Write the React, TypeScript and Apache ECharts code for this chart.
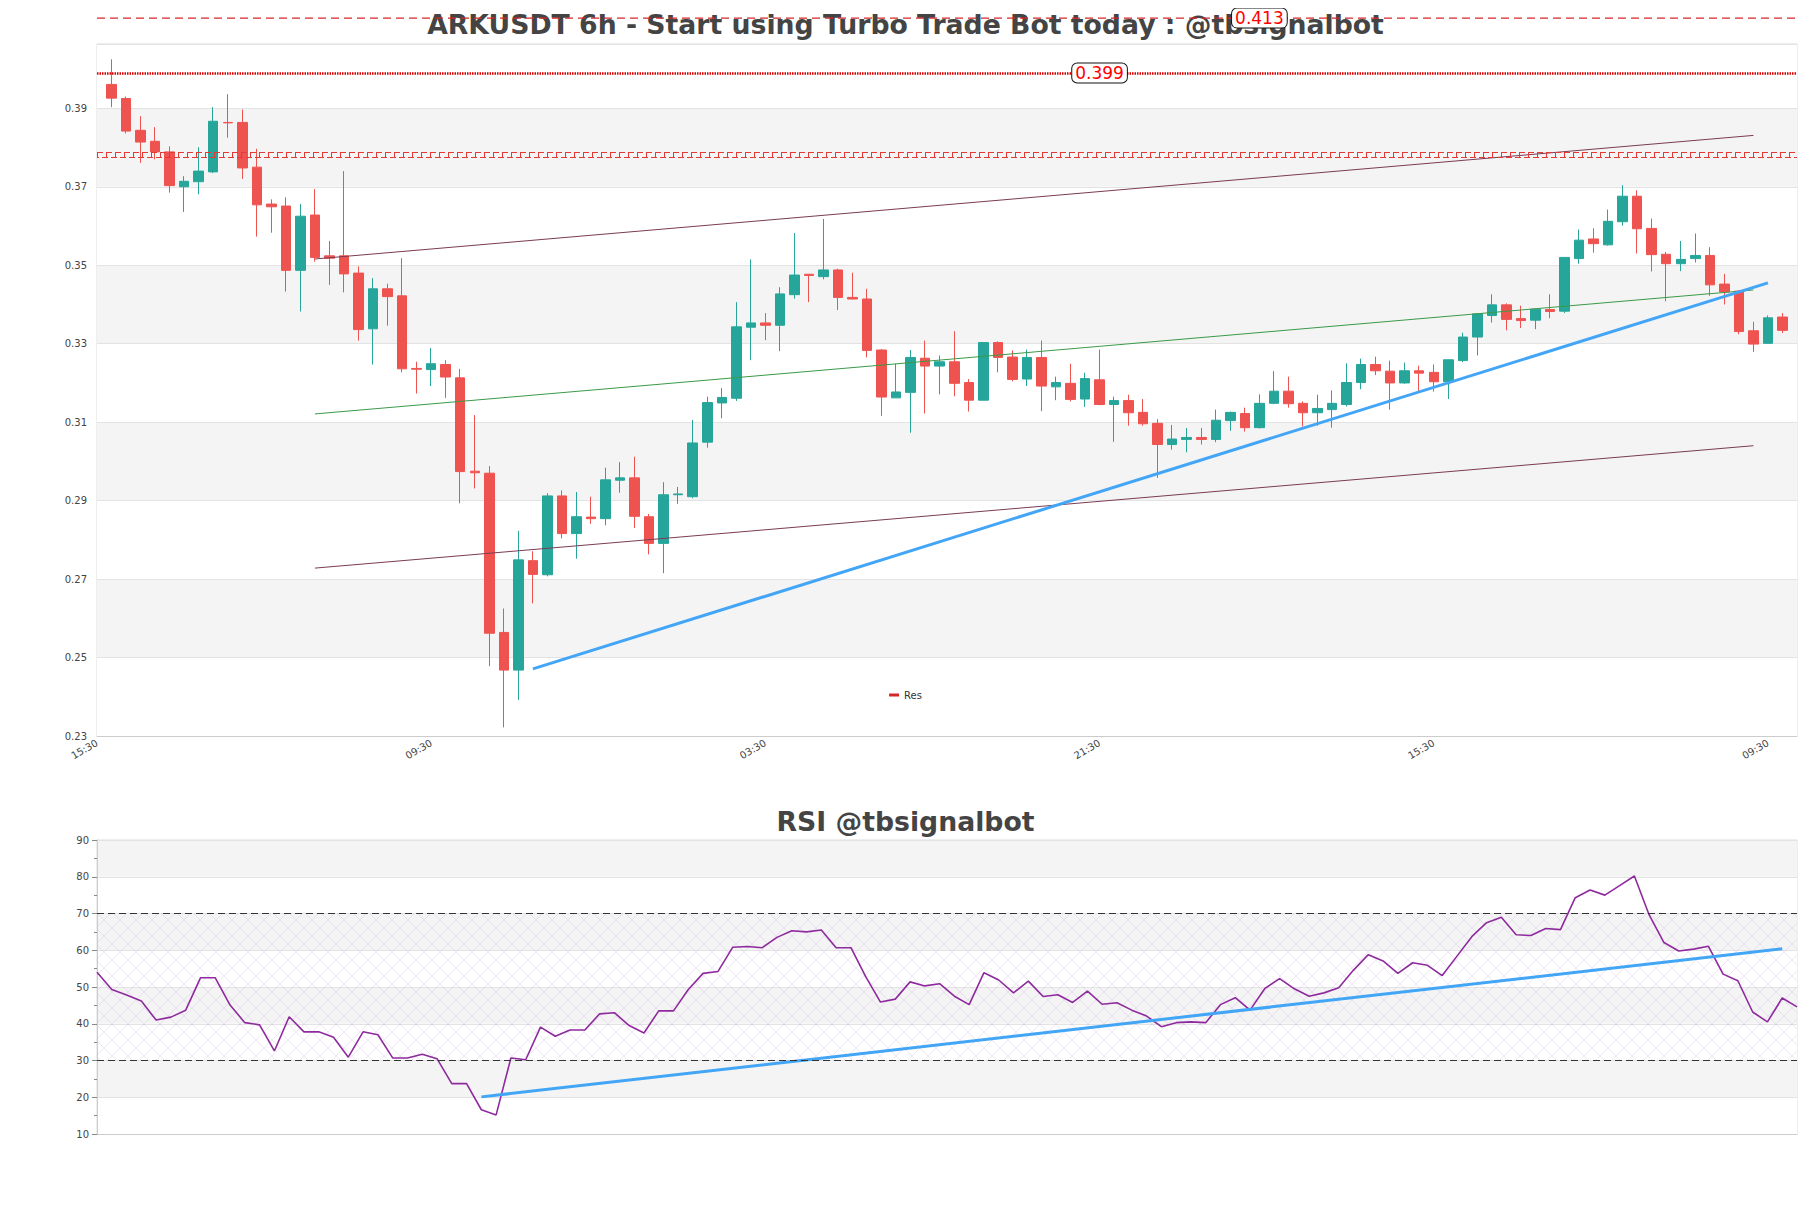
import React, { useEffect, useRef } from "react";
import * as echarts from "echarts";

// ---------- data ----------
const startTime = "15:30"; // first category label
const stepHours = 6;
const padBefore = 1; // empty slot before first candle
const padAfter = 1; // empty slot after last candle
const xLabelEvery = 23;

const opens = [0.3961,0.3925,0.3844,0.3816,0.3789,0.3700,0.3713,0.3738,0.3864,0.3864,
0.3750,0.3656,0.3651,0.3487,0.3628,0.3524,0.3524,0.3480,0.3338,0.3440,
0.3422,0.3237,0.3234,0.3247,0.3213,0.2975,0.2970,0.2564,0.2468,0.2747,
0.2711,0.2912,0.2816,0.2858,0.2854,0.2952,0.2958,0.2859,0.2791,0.2915,
0.2910,0.3049,0.3149,0.3161,0.3342,0.3353,0.3347,0.3425,0.3477,0.3471,
0.3488,0.3418,0.3414,0.3284,0.3162,0.3176,0.3263,0.3243,0.3254,0.3201,
0.3156,0.3303,0.3266,0.3210,0.3265,0.3190,0.3199,0.3159,0.3208,0.3145,
0.3155,0.3125,0.3097,0.3043,0.3056,0.3061,0.3056,0.3104,0.3122,0.3086,
0.3148,0.3179,0.3148,0.3124,0.3132,0.3145,0.3201,0.3247,0.3230,0.3200,
0.3231,0.3227,0.3203,0.3257,0.3317,0.3372,0.3399,0.3364,0.3360,0.3387,
0.3383,0.3517,0.3567,0.3552,0.3611,0.3676,0.3594,0.3528,0.3504,0.3517,
0.3525,0.3452,0.3434,0.3333,0.3301,0.3368];

const closes = [0.3926,0.3842,0.3814,0.3789,0.3703,0.3714,0.3740,0.3867,0.3863,0.3748,
0.3654,0.3649,0.3487,0.3625,0.3520,0.3518,0.3478,0.3336,0.3440,0.3420,
0.3236,0.3235,0.3249,0.3215,0.2974,0.2971,0.2562,0.2468,0.2749,0.2712,
0.2912,0.2816,0.2859,0.2854,0.2953,0.2958,0.2860,0.2791,0.2915,0.2917,
0.3047,0.3150,0.3163,0.3343,0.3353,0.3347,0.3427,0.3475,0.3474,0.3488,
0.3418,0.3414,0.3283,0.3164,0.3177,0.3265,0.3243,0.3254,0.3199,0.3156,
0.3303,0.3265,0.3209,0.3265,0.3192,0.3201,0.3158,0.3211,0.3145,0.3155,
0.3124,0.3096,0.3043,0.3057,0.3061,0.3056,0.3105,0.3125,0.3086,0.3148,
0.3179,0.3147,0.3124,0.3135,0.3148,0.3201,0.3247,0.3231,0.3200,0.3231,
0.3225,0.3203,0.3259,0.3317,0.3376,0.3399,0.3362,0.3359,0.3388,0.3382,
0.3520,0.3564,0.3555,0.3612,0.3676,0.3593,0.3527,0.3504,0.3515,0.3525,
0.3450,0.3432,0.3331,0.3299,0.3366,0.3334];

const lows = [0.3903,0.3836,0.3761,0.3770,0.3685,0.3636,0.3681,0.3735,0.3825,0.3720,
0.3573,0.3583,0.3433,0.3382,0.3509,0.3450,0.3431,0.3308,0.3247,0.3346,
0.3227,0.3173,0.3192,0.3162,0.2893,0.2931,0.2478,0.2322,0.2392,0.2638,
0.2707,0.2804,0.2752,0.2841,0.2837,0.2920,0.2830,0.2763,0.2715,0.2892,
0.2906,0.3035,0.3110,0.3154,0.3258,0.3309,0.3281,0.3415,0.3406,0.3464,
0.3386,0.3413,0.3265,0.3116,0.3162,0.3073,0.3122,0.3171,0.3166,0.3127,
0.3156,0.3227,0.3204,0.3192,0.3128,0.3156,0.3153,0.3139,0.3143,0.3050,
0.3091,0.3091,0.2958,0.3030,0.3023,0.3043,0.3049,0.3078,0.3076,0.3084,
0.3146,0.3137,0.3089,0.3091,0.3086,0.3140,0.3184,0.3220,0.3132,0.3198,
0.3177,0.3178,0.3159,0.3253,0.3270,0.3354,0.3334,0.3340,0.3337,0.3365,
0.3378,0.3504,0.3532,0.3550,0.3601,0.3530,0.3484,0.3408,0.3485,0.3507,
0.3422,0.3400,0.3324,0.3279,0.3300,0.3327];

const highs = [0.4025,0.3930,0.3880,0.3852,0.3803,0.3727,0.3801,0.3903,0.3936,0.3897,
0.3797,0.3668,0.3673,0.3656,0.3694,0.3562,0.3740,0.3497,0.3467,0.3453,
0.3518,0.3254,0.3289,0.3258,0.3236,0.3118,0.2988,0.2625,0.2823,0.2771,
0.2919,0.2926,0.2922,0.2910,0.2984,0.2998,0.3012,0.2866,0.2947,0.2935,
0.3106,0.3165,0.3187,0.3406,0.3515,0.3378,0.3444,0.3582,0.3478,0.3618,
0.3491,0.3481,0.3440,0.3286,0.3249,0.3284,0.3308,0.3270,0.3332,0.3210,
0.3304,0.3306,0.3283,0.3285,0.3308,0.3216,0.3249,0.3226,0.3285,0.3165,
0.3170,0.3159,0.3108,0.3093,0.3085,0.3085,0.3132,0.3127,0.3137,0.3171,
0.3230,0.3216,0.3153,0.3170,0.3181,0.3250,0.3262,0.3267,0.3257,0.3252,
0.3244,0.3247,0.3260,0.3328,0.3377,0.3426,0.3403,0.3397,0.3389,0.3426,
0.3521,0.3591,0.3594,0.3642,0.3704,0.3691,0.3619,0.3534,0.3562,0.3581,
0.3546,0.3478,0.3436,0.3356,0.3372,0.3378];

const rsi = [54.0,49.3,47.8,46.2,41.0,41.8,43.7,52.5,52.5,45.1,
40.3,39.7,32.6,41.9,37.8,37.8,36.3,30.9,37.8,37.0,
30.7,30.7,31.7,30.5,23.7,23.7,16.6,15.2,30.7,30.2,
39.1,36.6,38.3,38.3,42.7,43.0,39.5,37.5,43.5,43.5,
49.3,53.7,54.2,60.8,61.0,60.7,63.5,65.3,65.0,65.5,
60.7,60.7,52.8,45.9,46.7,51.4,50.3,50.9,47.5,45.2,
53.9,51.9,48.4,51.6,47.4,47.9,45.8,48.9,45.3,45.7,
43.7,42.1,39.2,40.3,40.5,40.3,45.2,47.1,43.7,49.6,
52.3,49.5,47.5,48.4,49.8,54.6,58.8,57.1,53.7,56.6,
55.9,53.1,58.4,63.7,67.5,69.0,64.2,64.0,65.9,65.6,
74.3,76.4,75.0,77.6,80.2,69.6,62.1,59.8,60.3,61.1,
53.5,51.7,43.2,40.5,47.0,44.6];

// trend lines: [categoryIndex, price]
const trendBlue = [[30, 0.2471], [115, 0.3455]];
const trendGreen = [[15, 0.3121], [114, 0.3437]];
const trendUpper = [[15, 0.3516], [114, 0.3831]];
const trendLower = [[15, 0.2728], [114, 0.3040]];
const rsiTrend = [[26, 20.1], [114, 60.4]];

// resistance levels
const resMain = 0.399;
const resMainLabelAt = 69;
const resHigh = 0.413;
const resHighLabelAt = 80;
const resBandTop = 0.3789;
const resBandMid = 0.3782;
const resBandBottom = 0.3775;

const priceMin = 0.23;
const priceMax = 0.4064;
const priceStep = 0.02;
const rsiMin = 10;
const rsiMax = 90;
const rsiUpper = 70;
const rsiLower = 30;

// ---------- helpers ----------
function buildCategories(n: number): string[] {
  const [h, m] = startTime.split(":").map(Number);
  const out: string[] = [];
  for (let i = 0; i < n; i++) {
    const mins = (h * 60 + m + i * stepHours * 60) % (24 * 60);
    const hh = Math.floor(mins / 60);
    const mm = mins % 60;
    out.push(String(hh).padStart(2, "0") + ":" + String(mm).padStart(2, "0") + "#" + i);
  }
  return out;
}

function makeHatch(): string {
  const s = 16;
  const c = document.createElement("canvas");
  c.width = s;
  c.height = s;
  const ctx = c.getContext("2d");
  if (ctx) {
    ctx.strokeStyle = "rgba(185,155,215,0.4)";
    ctx.lineWidth = 0.6;
    ctx.beginPath();
    ctx.moveTo(0, 0);
    ctx.lineTo(s, s);
    ctx.moveTo(s, 0);
    ctx.lineTo(0, s);
    ctx.stroke();
  }
  return c.toDataURL();
}

const FONT = "DejaVu Sans";

export default function App() {
  const ref = useRef<HTMLDivElement>(null);

  useEffect(() => {
    if (!ref.current) return;
    const chart = echarts.init(ref.current, undefined, { renderer: "svg" });

    const nMain = opens.length + padBefore + padAfter;
    const mainCats = buildCategories(nMain);
    const candleData: any[] = [];
    for (let i = 0; i < padBefore; i++) candleData.push(["-", "-", "-", "-"]);
    for (let i = 0; i < opens.length; i++) candleData.push([opens[i], closes[i], lows[i], highs[i]]);
    for (let i = 0; i < padAfter; i++) candleData.push(["-", "-", "-", "-"]);
    const rsiCats = rsi.map((_, i) => String(i));

    const hatch = makeHatch();
    const trendLine = (name: string, data: number[][], color: string, width: number, xi: number, yi: number) => ({
      name,
      type: "line",
      xAxisIndex: xi,
      yAxisIndex: yi,
      data,
      symbol: "none",
      silent: true,
      lineStyle: { color, width },
      itemStyle: { color },
      z: 4,
    });

    const titleStyle = { fontSize: 26.7, fontWeight: "bold", color: "#444", fontFamily: FONT };

    const option: any = {
      animation: false,
      backgroundColor: "#fff",
      textStyle: { fontFamily: FONT },
      title: [
        {
          text: "ARKUSDT 6h - Start using Turbo Trade Bot today : @tbsignalbot",
          left: "center",
          top: 3,
          padding: 0,
          textStyle: titleStyle,
        },
        {
          text: "RSI @tbsignalbot",
          left: "center",
          top: 800,
          padding: 0,
          textStyle: titleStyle,
        },
      ],
      legend: {
        data: [{ name: "Res", icon: "rect" }],
        left: "center",
        top: 677,
        itemWidth: 10,
        itemHeight: 3,
        itemGap: 5,
        textStyle: { fontSize: 10, color: "#333", fontFamily: FONT },
      },
      grid: [
        { left: 89, right: 6, top: 36, height: 692, show: true, borderColor: "#ddd", borderWidth: 1, backgroundColor: "transparent" },
        { left: 89, right: 6, top: 832, height: 294, show: true, borderColor: "#ddd", borderWidth: 1, backgroundColor: "transparent" },
      ],
      xAxis: [
        {
          type: "category",
          gridIndex: 0,
          data: mainCats,
          boundaryGap: false,
          axisLine: { lineStyle: { color: "#ccc" } },
          axisTick: { show: false },
          splitLine: { show: false },
          axisLabel: {
            interval: xLabelEvery - 1,
            rotate: 30,
            fontSize: 10,
            color: "#444",
            margin: 6,
            formatter: (v: string) => v.split("#")[0],
          },
        },
        {
          type: "category",
          gridIndex: 1,
          data: rsiCats,
          boundaryGap: false,
          axisLine: { lineStyle: { color: "#ccc" } },
          axisTick: { show: false },
          axisLabel: { show: false },
          splitLine: { show: false },
        },
      ],
      yAxis: [
        {
          type: "value",
          gridIndex: 0,
          min: priceMin,
          max: priceMax,
          interval: priceStep,
          axisLine: { show: false },
          axisTick: { show: false },
          axisLabel: { fontSize: 10, color: "#444", showMaxLabel: false, margin: 10, formatter: (v: number) => String(+v.toFixed(2)) },
          splitLine: { show: true, lineStyle: { color: "#e3e3e3" } },
          splitArea: { show: true, areaStyle: { color: ["#ffffff", "#f4f4f4"] } },
        },
        {
          type: "value",
          gridIndex: 1,
          min: rsiMin,
          max: rsiMax,
          interval: 10,
          axisLine: { show: true, lineStyle: { color: "#ccc" } },
          axisTick: { show: true, length: 5, lineStyle: { color: "#888" } },
          minorTick: { show: true, splitNumber: 2, length: 3, lineStyle: { color: "#888" } },
          axisLabel: { fontSize: 10, color: "#444", margin: 8 },
          splitLine: { show: true, lineStyle: { color: "#e3e3e3" } },
          splitArea: { show: true, areaStyle: { color: ["#ffffff", "#f4f4f4"] } },
        },
      ],
      series: [
        {
          name: "Price",
          type: "candlestick",
          xAxisIndex: 0,
          yAxisIndex: 0,
          data: candleData,
          barWidth: 10,
          itemStyle: {
            color: "#26a69a",
            color0: "#ef5350",
            borderColor: "#26a69a",
            borderColor0: "#ef5350",
            borderWidth: 1,
          },
          z: 3,
          markLine: {
            silent: true,
            symbol: "none",
            precision: 6,
            label: { show: false },
            data: [
              { yAxis: resMain, lineStyle: { color: "#d40000", width: 2.5, type: [1.5, 1] } },
              { yAxis: resBandTop, lineStyle: { color: "#e53935", width: 1, type: [6, 3] } },
              { yAxis: resBandMid, lineStyle: { color: "#e53935", width: 4, type: [1, 8] } },
              { yAxis: resBandBottom, lineStyle: { color: "#e53935", width: 1, type: [6, 3], dashOffset: 4 } },
            ],
          },
          markPoint: {
            silent: true,
            symbol: "rect",
            symbolSize: 1,
            itemStyle: { color: "rgba(0,0,0,0)" },
            label: {
              show: true,
              position: "inside",
              formatter: "{c}",
              color: "#ff0000",
              fontSize: 17,
              fontFamily: FONT,
              backgroundColor: "#fff",
              borderColor: "#111",
              borderWidth: 1,
              borderRadius: 5,
              padding: [1, 3],
            },
            data: [{ coord: [resMainLabelAt, resMain], value: resMain }],
          },
        },
        { name: "Res", type: "line", xAxisIndex: 0, yAxisIndex: 0, data: [], itemStyle: { color: "#d62728" }, lineStyle: { color: "#d62728" } },
        trendLine("t1", trendUpper, "#7b3b55", 1, 0, 0),
        trendLine("t2", trendGreen, "#3a9a48", 1, 0, 0),
        trendLine("t3", trendLower, "#7b3b55", 1, 0, 0),
        trendLine("t4", trendBlue, "#42a5f5", 3, 0, 0),
        {
          name: "RSI",
          type: "line",
          xAxisIndex: 1,
          yAxisIndex: 1,
          data: rsi,
          symbol: "none",
          lineStyle: { color: "#8e2a9e", width: 1.6 },
          itemStyle: { color: "#8e2a9e" },
          z: 3,
          markLine: {
            silent: true,
            symbol: "none",
            label: { show: false },
            lineStyle: { color: "#333", width: 1.2, type: [7, 4] },
            data: [{ yAxis: rsiUpper }, { yAxis: rsiLower }],
          },
          markArea: {
            silent: true,
            itemStyle: {
              color: { image: hatch, repeat: "repeat", imageWidth: 16, imageHeight: 16 },
            },
            data: [[{ yAxis: rsiLower }, { yAxis: rsiUpper }]],
          },
        },
        trendLine("t5", rsiTrend, "#42a5f5", 3, 1, 1),
      ],
    };

    chart.setOption(option);

    // level above the visible range: placed through the axis scale
    const yHigh = chart.convertToPixel({ yAxisIndex: 0 }, resHigh) as number;
    const xStart = chart.convertToPixel({ xAxisIndex: 0 }, 0) as number;
    const xEnd = chart.convertToPixel({ xAxisIndex: 0 }, nMain - 1) as number;
    const xLab = chart.convertToPixel({ xAxisIndex: 0 }, resHighLabelAt) as number;
    chart.setOption({
      graphic: [
        {
          type: "line",
          z: 50,
          silent: true,
          shape: { x1: xStart, y1: yHigh, x2: xEnd, y2: yHigh },
          style: { stroke: "#d62728", lineWidth: 1.3, lineDash: [8, 5] },
        },
        {
          type: "text",
          z: 60,
          silent: true,
          x: xLab,
          y: yHigh,
          style: {
            text: String(resHigh),
            fill: "#ff0000",
            font: "17px " + FONT,
            align: "center",
            verticalAlign: "middle",
            backgroundColor: "#fff",
            borderColor: "#111",
            borderWidth: 1,
            borderRadius: 5,
            padding: [1, 3],
          },
        },
      ],
    });

    return () => chart.dispose();
  }, []);

  return <div ref={ref} style={{ width: "100%", height: 1192 }} />;
}
